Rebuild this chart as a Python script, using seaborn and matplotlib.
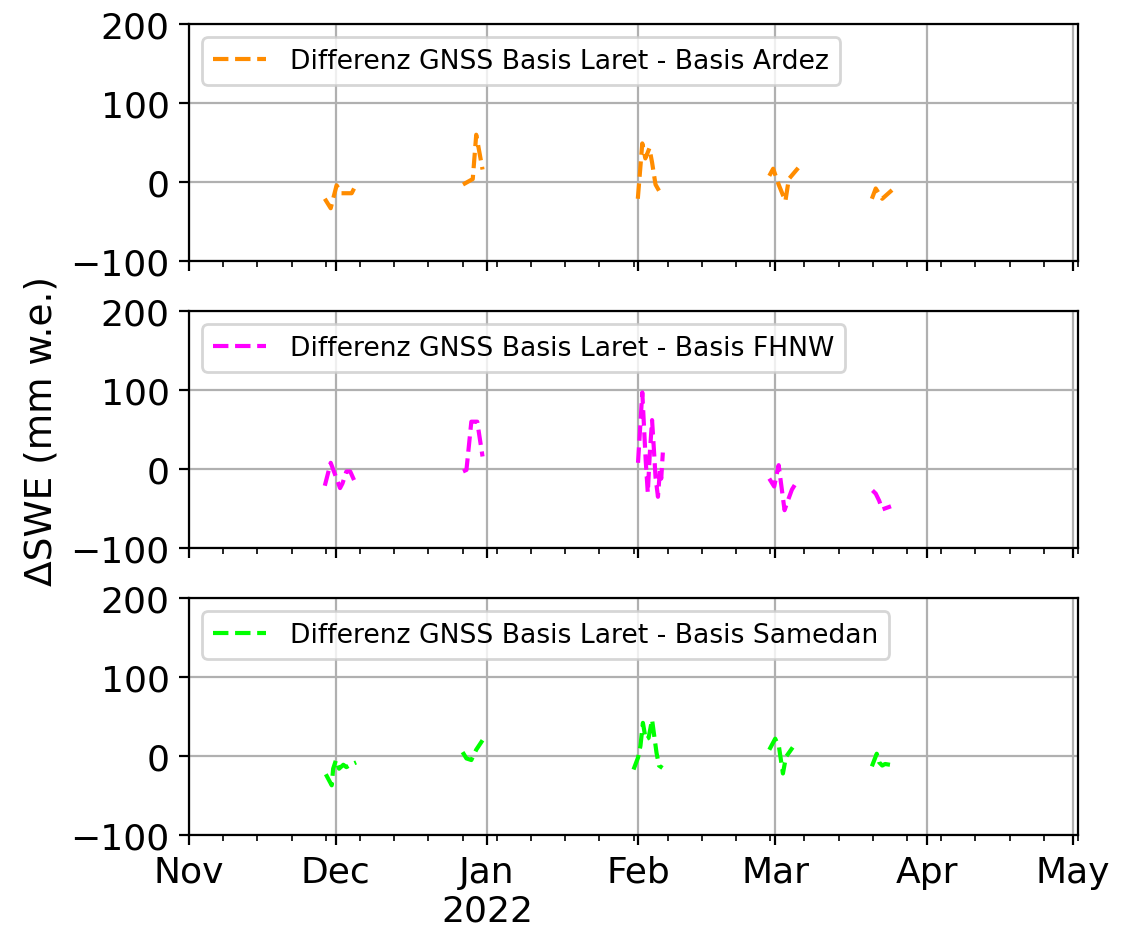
import matplotlib
matplotlib.use("Agg")
import matplotlib.pyplot as plt
import matplotlib.dates as mdates
from matplotlib.ticker import FuncFormatter
import pandas as pd
import seaborn as sns

# --- Differenz Laret - Ardez ---
ardez_time = [
    "2021-11-28 19:00", "2021-11-30 00:00", "2021-12-01 05:00", "2021-12-02 05:00",
    "2021-12-04 07:00", "2021-12-04 19:00",
    "2021-12-27 02:00", "2021-12-29 02:00", "2021-12-29 19:00", "2021-12-31 02:00",
    "2022-01-31 21:00", "2022-02-01 19:00", "2022-02-02 10:00", "2022-02-03 06:00",
    "2022-02-03 19:00", "2022-02-04 12:00", "2022-02-05 21:00",
    "2022-02-27 19:00", "2022-02-28 14:00", "2022-03-01 17:00", "2022-03-03 02:00",
    "2022-03-03 19:00", "2022-03-05 17:00",
    "2022-03-20 19:00", "2022-03-21 14:00", "2022-03-22 22:00", "2022-03-24 22:00",
]
ardez_dswe = [
    -21, -33, -4, -14, -14, -8,
    -3, 4, 60, 16,
    -21, 49, 30, 43, 25, -3, -18,
    8, 17, -3, -24, 4, 18,
    -21, -8, -21, -10,
]

# --- Differenz Laret - FHNW ---
fhnw_time = [
    "2021-11-28 19:00", "2021-11-30 00:00", "2021-12-01 22:00", "2021-12-02 10:00",
    "2021-12-03 05:00", "2021-12-04 00:00", "2021-12-04 19:00",
    "2021-12-27 02:00", "2021-12-27 19:00", "2021-12-28 19:00", "2021-12-30 00:00",
    "2021-12-31 02:00",
    "2022-01-31 22:00", "2022-02-01 19:00", "2022-02-02 06:00", "2022-02-02 12:00",
    "2022-02-02 22:00", "2022-02-03 08:00", "2022-02-03 19:00", "2022-02-04 04:00",
    "2022-02-04 12:00", "2022-02-05 00:00", "2022-02-05 10:00", "2022-02-05 16:00",
    "2022-02-06 00:00",
    "2022-02-27 19:00", "2022-02-28 19:00", "2022-03-01 17:00", "2022-03-02 22:00",
    "2022-03-03 14:00", "2022-03-04 10:00", "2022-03-05 10:00",
    "2022-03-20 22:00", "2022-03-21 14:00", "2022-03-22 07:00", "2022-03-22 22:00",
    "2022-03-24 17:00",
]
fhnw_dswe = [
    -21, 8, -24, -18, -3, -3, -14,
    -3, -1, 60, 60, 16,
    8, 97, 40, 10, -30, 20, 62, 25, -10, -35, 0, -12, 21,
    -12, -22, 5, -52, -40, -26, -16,
    -27, -31, -40, -51, -47,
]

# --- Differenz Laret - Samedan ---
samedan_time = [
    "2021-11-29 00:00", "2021-11-30 05:00", "2021-11-30 12:00", "2021-12-01 02:00",
    "2021-12-01 17:00", "2021-12-02 14:00", "2021-12-03 05:00", "2021-12-04 02:00",
    "2021-12-05 05:00",
    "2021-12-27 00:00", "2021-12-27 19:00", "2021-12-28 19:00", "2021-12-29 19:00",
    "2021-12-31 02:00",
    "2022-01-31 00:00", "2022-01-31 22:00", "2022-02-01 10:00", "2022-02-01 22:00",
    "2022-02-02 12:00", "2022-02-03 02:00", "2022-02-03 19:00", "2022-02-04 17:00",
    "2022-02-05 05:00", "2022-02-05 22:00",
    "2022-02-27 19:00", "2022-03-01 00:00", "2022-03-01 19:00", "2022-03-02 14:00",
    "2022-03-03 05:00", "2022-03-04 14:00",
    "2022-03-20 19:00", "2022-03-21 19:00", "2022-03-22 07:00", "2022-03-22 22:00",
    "2022-03-23 12:00", "2022-03-24 12:00",
]
samedan_dswe = [
    -23, -37, -16, -5, -16, -11, -14, -11, -8,
    5, -3, -5, 8, 20,
    -17, -2, 13, 42, 21, 23, 46, 4, -12, -15,
    8, 22, 11, -22, -1, 11,
    -13, 3, -8, -12, -10, -11,
]

series = [
    (ardez_time, ardez_dswe, "Differenz GNSS Basis Laret - Basis Ardez", "darkorange"),
    (fhnw_time, fhnw_dswe, "Differenz GNSS Basis Laret - Basis FHNW", "magenta"),
    (samedan_time, samedan_dswe, "Differenz GNSS Basis Laret - Basis Samedan", "lime"),
]


def month_label(x, pos=None):
    d = mdates.num2date(x)
    if d.month == 1:
        return d.strftime("%b\n%Y")
    return d.strftime("%b")


plt.rcParams["font.size"] = 13

fig, axes = plt.subplots(3, 1, sharex=True, figsize=(5.64, 4.64), dpi=200)

for ax, (t, v, lab, col) in zip(axes, series):
    df = pd.DataFrame({"time": pd.to_datetime(t), "dswe": v})
    # Messblöcke trennen (Lücken > 3 Tage nicht verbinden)
    df["block"] = (df["time"].diff() > pd.Timedelta(days=3)).cumsum()
    sns.lineplot(data=df, x="time", y="dswe", units="block", estimator=None,
                 color=col, linestyle="--", linewidth=1.5, ax=ax)
    ax.legend([ax.lines[0]], [lab], loc="upper left", fontsize=9.6,
              bbox_to_anchor=(0.0, 1.0), handletextpad=0.9)
    ax.set_ylim(-100, 200)
    ax.set_yticks([-100, 0, 100, 200])
    ax.grid(True)
    ax.set_xlabel("")
    ax.set_ylabel("")

axes[-1].set_xlim(pd.Timestamp("2021-11-01"), pd.Timestamp("2022-05-02"))
axes[-1].xaxis.set_major_locator(mdates.MonthLocator())
axes[-1].xaxis.set_minor_locator(mdates.WeekdayLocator(byweekday=mdates.MO))
axes[-1].xaxis.set_major_formatter(FuncFormatter(month_label))

axes[1].set_ylabel("ΔSWE (mm w.e.)", fontsize=13.5)

fig.subplots_adjust(left=0.1676, right=0.9557, top=0.973, bottom=0.099, hspace=0.21)
plt.savefig("out.png", dpi=200)
